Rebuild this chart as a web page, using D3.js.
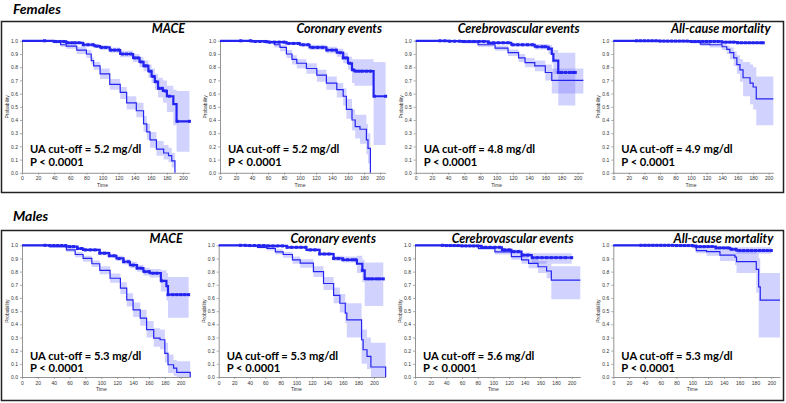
<!DOCTYPE html>
<html>
<head>
<meta charset="utf-8">
<script src="https://cdn.jsdelivr.net/npm/d3@7"></script>
<style>
  body { margin: 0; background: #fff; }
  .tick text { font-family: "Liberation Sans", Arial, sans-serif; }
</style>
</head>
<body>
<script>
'use strict';

// panel titles and annotation text
const panelTitles = ["MACE", "Coronary events", "Cerebrovascular events", "All-cause mortality"];
const femaleCutoffs = ["5.2", "5.2", "4.8", "4.9"];
const maleCutoffs = ["5.3", "5.3", "5.6", "5.3"];
const pValues = ["P < 0.0001", "P < 0.0001", "P < 0.0001", "P < 0.0001"];
const yTickValues = [0, 0.1, 0.2, 0.3, 0.4, 0.5, 0.6, 0.7, 0.8, 0.9, 1.0];
const xTickValues = [0, 20, 40, 60, 80, 100, 120, 140, 160, 180, 200];

// Kaplan-Meier steps: [time, survival, lower CI, upper CI]
// "low" = below UA cut-off (upper curve), "high" = above cut-off (lower curve)
const femMaceLow = [[0,1,1,1],[39,0.995,0.99,1],[55,0.985,0.975,0.995],[76,0.97,0.955,0.985],[90,0.96,0.945,0.975],[97,0.95,0.93,0.965],[109,0.93,0.91,0.95],[122,0.9,0.875,0.925],[138,0.87,0.84,0.9],[146,0.84,0.8,0.875],[151,0.81,0.77,0.85],[157,0.77,0.72,0.82],[161,0.73,0.68,0.79],[165,0.69,0.63,0.75],[169,0.64,0.57,0.72],[175,0.62,0.53,0.7],[180,0.58,0.46,0.66],[188,0.52,0.36,0.63],[192,0.39,0.16,0.62],[208,0.39,0.16,0.62]];
const femMaceHigh = [[0,1,1,1],[39,0.99,0.98,1],[48,0.97,0.955,0.985],[55,0.96,0.94,0.975],[68,0.93,0.9,0.955],[80,0.9,0.87,0.93],[86,0.85,0.82,0.88],[89,0.81,0.78,0.84],[97,0.75,0.71,0.79],[109,0.67,0.63,0.71],[122,0.61,0.56,0.65],[130,0.53,0.48,0.58],[142,0.47,0.42,0.53],[151,0.37,0.31,0.43],[155,0.31,0.25,0.37],[159,0.25,0.19,0.31],[167,0.18,0.13,0.24],[176,0.15,0.1,0.21],[182,0.13,0.08,0.19],[186,0.09,0.04,0.15],[190,0,0,0]];
const femCorLow = [[0,1,1,1],[40,0.995,0.99,1],[58,0.99,0.98,1],[83,0.98,0.97,0.99],[100,0.97,0.955,0.985],[112,0.95,0.93,0.97],[133,0.93,0.905,0.955],[146,0.91,0.88,0.94],[154,0.87,0.83,0.91],[160,0.83,0.78,0.88],[165,0.78,0.68,0.86],[168,0.77,0.66,0.86],[192,0.58,0.21,0.84],[207,0.58,0.21,0.84]];
const femCorHigh = [[0,1,1,1],[60,0.99,0.98,1],[68,0.97,0.95,0.99],[75,0.95,0.92,0.97],[83,0.9,0.87,0.93],[90,0.86,0.82,0.89],[96,0.83,0.79,0.86],[108,0.79,0.75,0.83],[121,0.74,0.69,0.78],[133,0.68,0.63,0.73],[146,0.63,0.57,0.68],[154,0.58,0.51,0.64],[158,0.48,0.41,0.56],[165,0.4,0.32,0.48],[169,0.35,0.26,0.44],[175,0.33,0.22,0.44],[183,0.25,0.14,0.37],[185,0.185,0.07,0.3],[188,0,0,0]];
const femCerLow = [[0,1,1,1],[40,0.997,0.99,1],[57,0.995,0.988,1],[90,0.985,0.975,0.995],[118,0.97,0.955,0.985],[147,0.955,0.935,0.975],[164,0.94,0.9,0.97],[168,0.9,0.83,0.95],[170,0.85,0.75,0.93],[176,0.76,0.51,0.91],[197,0.76,0.51,0.91]];
const femCerHigh = [[0,1,1,1],[40,0.995,0.99,1],[57,0.99,0.98,1],[77,0.97,0.955,0.985],[98,0.945,0.925,0.965],[114,0.91,0.885,0.935],[127,0.87,0.84,0.9],[135,0.835,0.8,0.87],[147,0.81,0.77,0.85],[160,0.76,0.7,0.82],[168,0.7,0.6,0.79],[207,0.7,0.6,0.79]];
const femAllLow = [[0,1,1,1],[60,0.998,0.995,1],[100,0.995,0.99,1],[140,0.99,0.982,0.998],[160,0.985,0.975,0.995],[193,0.985,0.975,0.995]];
const femAllHigh = [[0,1,1,1],[100,0.99,0.98,1],[112,0.975,0.96,0.99],[124,0.97,0.95,0.985],[140,0.955,0.93,0.98],[146,0.935,0.9,0.965],[150,0.91,0.86,0.95],[155,0.87,0.81,0.92],[159,0.82,0.75,0.89],[163,0.78,0.69,0.86],[167,0.72,0.58,0.84],[176,0.68,0.52,0.82],[180,0.65,0.48,0.8],[184,0.56,0.36,0.73],[206,0.56,0.36,0.73]];

const maleMaceLow = [[0,1,1,1],[35,0.998,0.995,1],[56,0.99,0.985,0.997],[70,0.975,0.965,0.985],[77,0.965,0.955,0.975],[98,0.94,0.925,0.955],[110,0.92,0.905,0.935],[119,0.9,0.88,0.92],[128,0.875,0.855,0.895],[136,0.85,0.825,0.875],[145,0.826,0.8,0.85],[153,0.8,0.77,0.83],[161,0.788,0.755,0.82],[175,0.73,0.65,0.81],[182,0.69,0.58,0.79],[184,0.625,0.45,0.76],[210,0.625,0.45,0.76]];
const maleMaceHigh = [[0,1,1,1],[35,0.99,0.98,1],[56,0.965,0.95,0.98],[67,0.93,0.91,0.95],[77,0.9,0.875,0.92],[88,0.86,0.835,0.885],[98,0.81,0.78,0.84],[111,0.75,0.715,0.785],[124,0.675,0.63,0.72],[132,0.585,0.535,0.635],[140,0.51,0.455,0.565],[149,0.447,0.39,0.51],[157,0.36,0.3,0.425],[166,0.295,0.23,0.37],[174,0.283,0.21,0.36],[180,0.18,0.11,0.26],[184,0.093,0.03,0.17],[191,0.068,0.01,0.13],[195,0.035,0,0.12],[212,0,0,0]];
const maleCorLow = [[0,1,1,1],[40,0.998,0.995,1],[62,0.995,0.99,1],[88,0.985,0.977,0.993],[113,0.965,0.953,0.977],[130,0.934,0.918,0.95],[148,0.9,0.88,0.92],[160,0.89,0.87,0.915],[178,0.86,0.79,0.92],[185,0.81,0.72,0.89],[188,0.745,0.54,0.87],[212,0.745,0.54,0.87]];
const maleCorHigh = [[0,1,1,1],[35,0.995,0.99,1],[50,0.985,0.975,0.995],[62,0.977,0.96,0.99],[73,0.95,0.93,0.97],[83,0.93,0.905,0.95],[95,0.89,0.86,0.915],[105,0.864,0.83,0.895],[122,0.8,0.76,0.84],[135,0.71,0.66,0.76],[148,0.62,0.56,0.68],[156,0.56,0.49,0.63],[163,0.485,0.41,0.57],[165,0.434,0.3,0.56],[184,0.283,0.1,0.36],[186,0.207,0.1,0.36],[191,0.157,0.06,0.3],[196,0.076,0,0.26],[215,0,0,0]];
const maleCerLow = [[0,1,1,1],[40,0.998,0.995,1],[60,0.995,0.99,1],[85,0.985,0.977,0.993],[111,0.965,0.953,0.977],[123,0.952,0.935,0.968],[136,0.926,0.905,0.945],[149,0.906,0.86,0.94],[200,0.906,0.86,0.94]];
const maleCerHigh = [[0,1,1,1],[50,0.995,0.99,1],[81,0.977,0.965,0.99],[102,0.95,0.93,0.97],[123,0.914,0.89,0.94],[136,0.89,0.86,0.92],[145,0.863,0.825,0.9],[157,0.837,0.79,0.88],[168,0.805,0.75,0.86],[174,0.736,0.59,0.84],[211,0.736,0.59,0.84]];
const maleAllLow = [[0,1,1,1],[80,0.998,0.995,1],[105,0.99,0.982,0.997],[130,0.98,0.97,0.99],[148,0.97,0.955,0.985],[156,0.96,0.935,0.985],[200,0.96,0.935,0.985]];
const maleAllHigh = [[0,1,1,1],[100,0.99,0.975,1],[105,0.96,0.94,0.98],[118,0.952,0.92,0.975],[135,0.926,0.88,0.97],[154,0.91,0.85,0.96],[156,0.876,0.79,0.95],[181,0.817,0.64,0.94],[184,0.685,0.3,0.9],[186,0.584,0.3,0.79],[211,0.584,0.3,0.79]];

// censoring times on the below-cut-off curves
const femMaceCens = [28,42,47,52,57,62,66,71,76,82,88,93,99,104,110,115,120,125,130,135,140,144,148,152,155,159,163,166,170,174,178,183,193,208];
const femCorCens = [26,38,44,50,56,62,68,74,80,86,92,98,104,110,116,122,128,134,140,145,150,154,158,162,166,170,174,178,183,188,193,207];
const femCerCens = [30,36,42,48,54,60,66,72,78,84,90,96,102,108,114,120,126,132,138,144,150,156,160,164,176,180,185,190,194,197];
const femAllCens = [30,35,40,45,50,55,60,65,70,75,80,85,90,95,100,105,110,115,120,125,130,135,140,145,150,155,160,165,170,175,180,185,190,193];
const maleMaceCens = [29,35,40,45,50,55,60,65,70,75,80,86,92,98,104,110,116,122,128,134,140,145,150,155,160,165,170,176,184,190,195,200,205,210];
const maleCorCens = [28,34,40,46,52,58,64,70,76,82,88,94,100,106,112,118,124,130,136,142,148,154,160,166,172,176,185,190,194,198,203,207,212];
const maleCerCens = [35,40,45,50,55,60,65,70,75,80,85,90,96,102,108,114,120,126,132,138,144,150,156,162,168,174,180,186,192,200];
const maleAllCens = [35,40,45,50,55,60,65,70,75,80,85,90,95,100,105,110,115,120,125,130,135,140,145,150,155,160,165,170,175,180,185,190,195,200];

const femaleCurves = [[femMaceLow, femMaceHigh, femMaceCens], [femCorLow, femCorHigh, femCorCens],
  [femCerLow, femCerHigh, femCerCens], [femAllLow, femAllHigh, femAllCens]];
const maleCurves = [[maleMaceLow, maleMaceHigh, maleMaceCens], [maleCorLow, maleCorHigh, maleCorCens],
  [maleCerLow, maleCerHigh, maleCerCens], [maleAllLow, maleAllHigh, maleAllCens]];

const lineColor = "#2424f0";
const bandColor = "#6a6aff";
const boldFont = "Lato, 'Open Sans', sans-serif";

const svg = d3.select("body").append("svg")
  .attr("width", 786)
  .attr("height", 403);

// one block per sex: box, heading and four panels
const rows = [
  { label: "Females", labelY: 13.5, boxY: 21.5, boxH: 171, top: 40.8, bottom: 172.8, titleY: 33.3,
    textY: [152.7, 166], x0: [22, 220, 415.7, 613.3], x200: [183, 380, 577.7, 768.7],
    cutoffs: femaleCutoffs, curves: femaleCurves },
  { label: "Males", labelY: 221, boxY: 230.5, boxH: 170, top: 245.3, bottom: 377, titleY: 242.7,
    textY: [359.5, 372], x0: [22, 218.7, 415, 613.3], x200: [180.7, 374, 571.7, 771.3],
    cutoffs: maleCutoffs, curves: maleCurves }
];

rows.forEach(row => {
  svg.append("text")
    .attr("x", 13)
    .attr("y", row.labelY)
    .style("font-family", boldFont)
    .style("font-weight", "bold")
    .style("font-style", "italic")
    .style("font-size", "14px")
    .text(row.label);

  svg.append("rect")
    .attr("x", 1.5)
    .attr("y", row.boxY)
    .attr("width", 782)
    .attr("height", row.boxH)
    .attr("fill", "none")
    .attr("stroke", "#222")
    .attr("stroke-width", 1.5);

  for (let i = 0; i < 4; i++) {
    drawPanel(row, i);
  }
});

function drawPanel(row, i) {
  let low = row.curves[i][0];
  let high = row.curves[i][1];
  let cens = row.curves[i][2];
  let xMax = d3.max([low[low.length - 1][0], high[high.length - 1][0]]);

  let pxPerUnit = (row.x200[i] - row.x0[i]) / 200;
  let x = d3.scaleLinear()
    .domain([0, xMax])
    .range([row.x0[i], row.x0[i] + xMax * pxPerUnit]);
  let y = d3.scaleLinear()
    .domain([0, 1])
    .range([row.bottom, row.top]);

  let g = svg.append("g");

  // axes
  let yAxis = d3.axisLeft(y).tickValues(yTickValues).tickFormat(d3.format(".1f"))
    .tickSize(2).tickSizeOuter(0).tickPadding(2);
  let yG = g.append("g").attr("transform", "translate(" + row.x0[i] + ",0)").call(yAxis);
  let xAxis = d3.axisBottom(x).tickValues(xTickValues).tickFormat(d3.format("d"))
    .tickSize(2).tickSizeOuter(0).tickPadding(2);
  let xG = g.append("g").attr("transform", "translate(0," + row.bottom + ")").call(xAxis);
  [yG, xG].forEach(a => {
    a.select(".domain").attr("stroke", "#777").attr("stroke-width", 0.8);
    a.selectAll(".tick line").attr("stroke", "#777").attr("stroke-width", 0.6);
    a.selectAll(".tick text").style("font-size", "5px").attr("fill", "#333");
  });

  g.append("text")
    .attr("x", x(100))
    .attr("y", row.bottom + 14)
    .attr("text-anchor", "middle")
    .style("font-family", "Liberation Sans, Arial, sans-serif")
    .style("font-size", "5px")
    .attr("fill", "#333")
    .text("Time");

  g.append("text")
    .attr("transform", "translate(" + (row.x0[i] - 13) + "," + y(0.5) + ")rotate(-90)")
    .attr("text-anchor", "middle")
    .style("font-family", "Liberation Sans, Arial, sans-serif")
    .style("font-size", "5px")
    .attr("fill", "#333")
    .text("Probability");

  // confidence bands
  let band = d3.area()
    .curve(d3.curveStepAfter)
    .x(d => x(d[0]))
    .y0(d => y(d[2]))
    .y1(d => y(d[3]));
  [high, low].forEach(c => {
    g.append("path")
      .datum(c)
      .attr("d", band)
      .attr("fill", bandColor)
      .attr("fill-opacity", 0.3);
  });

  // survival step lines
  let line = d3.line()
    .curve(d3.curveStepAfter)
    .x(d => x(d[0]))
    .y(d => y(d[1]));
  g.append("path")
    .datum(high)
    .attr("d", line)
    .attr("fill", "none")
    .attr("stroke", lineColor)
    .attr("stroke-width", 1.2);
  g.append("path")
    .datum(low)
    .attr("d", line)
    .attr("fill", "none")
    .attr("stroke", lineColor)
    .attr("stroke-width", 2.2);

  // censor marks
  let bisect = d3.bisector(d => d[0]).right;
  let survAt = t => low[Math.max(0, bisect(low, t) - 1)][1];
  g.selectAll(".cens")
    .data(cens)
    .enter()
    .append("rect")
    .attr("x", t => x(t) - 1.5)
    .attr("y", t => y(survAt(t)) - 1.5)
    .attr("width", 3)
    .attr("height", 3)
    .attr("fill", lineColor);

  // titles and annotations
  g.append("text")
    .attr("x", row.x200[i] + 2)
    .attr("y", row.titleY)
    .attr("text-anchor", "end")
    .style("font-family", boldFont)
    .style("font-weight", "bold")
    .style("font-style", "italic")
    .style("font-size", "12.5px")
    .text(panelTitles[i]);

  g.append("text")
    .attr("x", row.x0[i] + 8)
    .attr("y", row.textY[0])
    .style("font-family", boldFont)
    .style("font-weight", "bold")
    .style("font-size", "11.2px")
    .text("UA cut-off = " + row.cutoffs[i] + " mg/dl");

  g.append("text")
    .attr("x", row.x0[i] + 8)
    .attr("y", row.textY[1])
    .style("font-family", boldFont)
    .style("font-weight", "bold")
    .style("font-size", "11.2px")
    .text(pValues[i]);
}
</script>
</body>
</html>
